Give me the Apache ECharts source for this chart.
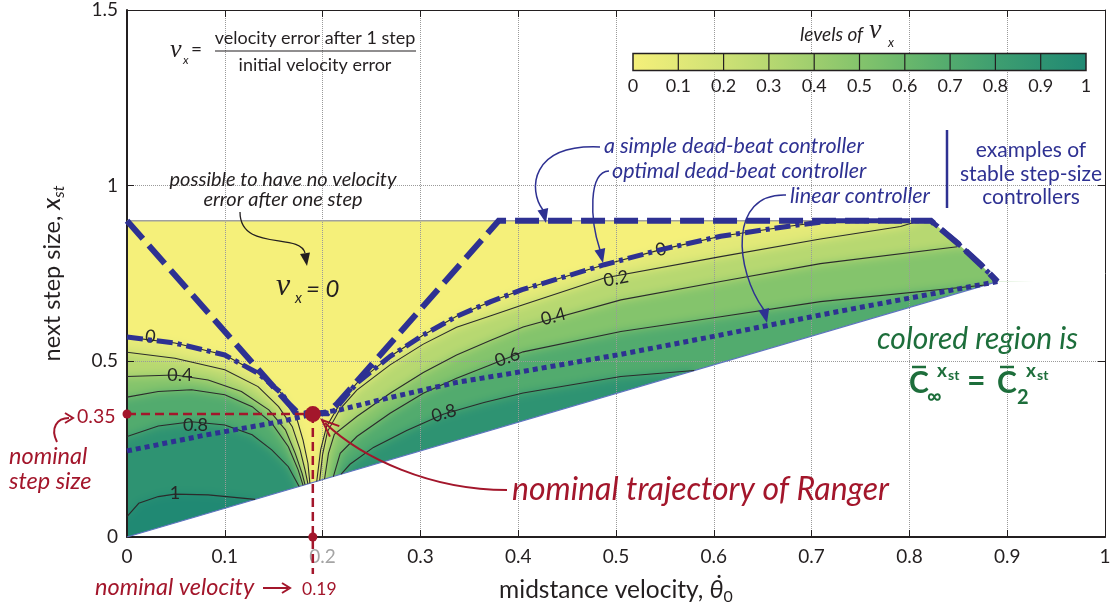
<!DOCTYPE html>
<html>
<head>
<meta charset="utf-8">
<title>Velocity error after one step</title>
<script src="https://cdn.jsdelivr.net/npm/echarts@6/dist/echarts.min.js"></script>
<style>
  html, body { margin: 0; padding: 0; background: #fff; }
  #stage { position: relative; width: 1111px; height: 616px; overflow: hidden; }
  #shade, #main { position: absolute; left: 0; top: 0; width: 1111px; height: 616px; }
  #shade { filter: blur(5px); }
</style>
</head>
<body>
<div id="stage"><div id="shade"></div><div id="main"></div></div>
<script>
// ---------- axes ----------
const xTicks = [0, 0.1, 0.2, 0.3, 0.4, 0.5, 0.6, 0.7, 0.8, 0.9, 1];
const yTicks = [0, 0.5, 1, 1.5];
const levelTicks = [0, 0.1, 0.2, 0.3, 0.4, 0.5, 0.6, 0.7, 0.8, 0.9, 1];

// ---------- iso-lines of nu_x, points are [theta0, x_st] ----------
// left lobe (theta0 below the nominal velocity)
const left0  = [[0,0.569],[0.049,0.552],[0.100,0.518],[0.134,0.466],[0.158,0.409],[0.172,0.352],[0.180,0.276],[0.185,0.210],[0.187,0.153]];
const left02 = [[0,0.526],[0.049,0.509],[0.100,0.476],[0.134,0.428],[0.155,0.371],[0.169,0.314],[0.177,0.248],[0.182,0.191],[0.185,0.151]];
const left04 = [[0,0.457],[0.049,0.461],[0.083,0.447],[0.117,0.414],[0.145,0.362],[0.162,0.305],[0.172,0.238],[0.179,0.181],[0.182,0.149]];
const left06 = [[0,0.398],[0.032,0.414],[0.066,0.419],[0.100,0.405],[0.128,0.371],[0.148,0.324],[0.165,0.257],[0.175,0.191],[0.180,0.147]];
const left08 = [[0,0.286],[0.032,0.316],[0.066,0.328],[0.100,0.319],[0.128,0.291],[0.148,0.248],[0.165,0.200],[0.176,0.144]];
const left1  = [[0,0.058],[0.012,0.096],[0.032,0.115],[0.049,0.122],[0.083,0.120],[0.131,0.107]];
// right lobe
const right0  = [[0.194,0.158],[0.198,0.248],[0.204,0.314],[0.218,0.381],[0.235,0.438],[0.269,0.514],[0.303,0.575],[0.337,0.628],[0.372,0.670],[0.404,0.704],[0.488,0.775],[0.546,0.818],[0.607,0.856],[0.675,0.884],[0.720,0.900]];
const right02 = [[0.197,0.161],[0.200,0.235],[0.205,0.300],[0.218,0.365],[0.235,0.418],[0.269,0.490],[0.303,0.549],[0.337,0.597],[0.372,0.630],[0.402,0.658],[0.488,0.737],[0.607,0.798],[0.709,0.848],[0.791,0.884],[0.810,0.900]];
const right04 = [[0.202,0.165],[0.206,0.238],[0.212,0.292],[0.235,0.343],[0.269,0.409],[0.303,0.468],[0.337,0.518],[0.372,0.560],[0.405,0.598],[0.505,0.675],[0.607,0.727],[0.709,0.778],[0.849,0.826]];
const right06 = [[0.211,0.172],[0.218,0.238],[0.235,0.286],[0.269,0.352],[0.303,0.409],[0.337,0.452],[0.372,0.490],[0.405,0.527],[0.505,0.585],[0.607,0.627],[0.709,0.670],[0.880,0.718]];
const right08 = [[0.219,0.179],[0.228,0.207],[0.252,0.255],[0.286,0.303],[0.324,0.350],[0.365,0.383],[0.405,0.410],[0.505,0.457],[0.580,0.474]];

// contour labels: [text, theta0, x_st, angle in degrees]
const contourLabels = [
  ['0', 0.024, 0.570, -7], ['0.4', 0.054, 0.461, 0], ['0.8', 0.070, 0.318, 0], ['1', 0.049, 0.125, 0],
  ['0', 0.546, 0.818, 14], ['0.2', 0.500, 0.735, 11], ['0.4', 0.436, 0.627, 15], ['0.6', 0.389, 0.511, 20], ['0.8', 0.324, 0.352, 16]
];

// edge of the admissible region
const regionEdge = [[0,0],[0.890,0.727],[0.873,0.775],[0.849,0.837],[0.822,0.900],[0,0.900]];

// ---------- controllers ----------
const deadBeat = [[0,0.900],[0.165,0.380],[0.175,0.352],[0.205,0.352],[0.215,0.380],[0.380,0.900],[0.822,0.900],[0.849,0.837],[0.873,0.775],[0.890,0.727]];
const optimalDeadBeat = [[0,0.569],[0.049,0.552],[0.100,0.518],[0.134,0.466],[0.158,0.409],[0.172,0.352],[0.210,0.352],[0.218,0.381],[0.235,0.438],[0.269,0.514],[0.303,0.575],[0.337,0.628],[0.372,0.670],[0.404,0.704],[0.488,0.775],[0.546,0.818],[0.607,0.856],[0.675,0.884],[0.720,0.900],[0.822,0.900],[0.849,0.837],[0.873,0.775],[0.890,0.727]];
const linearController = [[0,0.245],[0.080,0.290],[0.158,0.329],[0.190,0.350],[0.218,0.362],[0.269,0.397],[0.337,0.440],[0.402,0.470],[0.505,0.520],[0.607,0.575],[0.709,0.632],[0.800,0.680],[0.890,0.727]];

// nominal operating point of Ranger
const nominalVelocity = 0.19;
const nominalStep = 0.35;

// ---------- styling ----------
const SANS = 'Lato, "Open Sans", sans-serif';
const SERIF = '"Liberation Serif", "DejaVu Serif", serif';
const INK = '#231f20', NAVY = '#2e3192', RED = '#a3162b', GREEN = '#1d6e3b';
const paletteStops = [
  [0.0,[245,240,122]],[0.1,[226,233,120]],[0.2,[206,225,117]],[0.3,[183,216,113]],[0.4,[158,206,110]],
  [0.5,[132,196,108]],[0.6,[106,184,108]],[0.7,[82,171,110]],[0.8,[62,158,112]],[0.9,[46,147,114]],[1.0,[32,137,115]]
];
function colorAt(v) {
  const s = paletteStops;
  if (v <= s[0][0]) return 'rgb(' + s[0][1].join(',') + ')';
  for (let i = 1; i < s.length; i++) {
    if (v <= s[i][0]) {
      const t = (v - s[i-1][0]) / (s[i][0] - s[i-1][0]);
      const c = s[i][1].map((q, k) => Math.round(s[i-1][1][k] + t * (q - s[i-1][1][k])));
      return 'rgb(' + c.join(',') + ')';
    }
  }
  return 'rgb(' + s[s.length-1][1].join(',') + ')';
}

const gridBox = { left: 127, right: 6, top: 10, bottom: 79, outerBoundsMode: 'none' };

// ---------- filled level sets (soft layer underneath) ----------
const OUT = -0.1, TOP = 1.0, FAR = 1.1;
function lowerSet(left, right, tail) {
  const pts = [[OUT, TOP], [OUT, left[0][1]]].concat(left);
  pts.push([left[left.length-1][0], OUT], [right[0][0], OUT]);
  return pts.concat(right, tail);
}
const aboveOne = [[OUT, left1[0][1]]].concat(left1, [[0.2, OUT], [OUT, OUT]]);
const shadingLayers = [
  { v: 0.9, poly: [[OUT,OUT],[FAR,OUT],[FAR,TOP],[OUT,TOP]] },
  { v: 1.0, poly: aboveOne },
  { v: 0.7, poly: lowerSet(left08, right08, [[0.58,0.30],[FAR,0.30],[FAR,TOP]]) },
  { v: 0.5, poly: lowerSet(left06, right06, [[0.95,0.70],[FAR,0.70],[FAR,TOP]]) },
  { v: 0.3, poly: lowerSet(left04, right04, [[FAR,0.83],[FAR,TOP]]) },
  { v: 0.1, poly: lowerSet(left02, right02, [[0.83,TOP]]) },
  { v: 0.0, poly: lowerSet(left0, right0, [[0.73,TOP]]) }
];

const shade = echarts.init(document.getElementById('shade'));
shade.setOption({
  backgroundColor: '#fff',
  animation: false,
  grid: gridBox,
  xAxis: { type: 'value', min: xTicks[0], max: xTicks[xTicks.length-1], show: false },
  yAxis: { type: 'value', min: yTicks[0], max: yTicks[yTicks.length-1], show: false },
  series: [{
    type: 'custom', clip: false, silent: true,
    data: shadingLayers.map(l => [l.v, l.v]),
    renderItem: (p, api) => {
      const L = shadingLayers[p.dataIndex];
      const c = colorAt(L.v);
      return { type: 'polygon', shape: { points: L.poly.map(q => api.coord(q)) }, style: { fill: c, stroke: c, lineWidth: 1 } };
    }
  }]
});

// ---------- white cover outside the region ----------
const outside = [
  [[-0.15,0.9],[FAR,0.9],[FAR,1.2],[-0.15,1.2]],
  [[-0.15,-0.2],[0,-0.2],[0,0.9],[0,0.95],[-0.15,0.95]],
  [[0,-0.2],[0,0],[0.890,0.727],[FAR,0.727],[FAR,-0.2]],
  [[0.822,0.950],[0.822,0.900],[0.849,0.837],[0.873,0.775],[0.890,0.727],[FAR,0.720],[FAR,0.950]]
];

const contours = [left0, left02, left04, left06, left08, left1, right0, right02, right04, right06, right08];

// ---------- annotation helpers (pixel space) ----------
function txt(x, y, text, size, color, o) {
  o = o || {};
  const align = o.align || 'left', va = o.va || 'middle';
  return { type: 'text', x: x, y: y, z: 20, silent: true, rotation: o.rot || 0,
    style: { text: text, fill: color,
      font: (o.style || 'normal') + ' ' + (o.weight || 'normal') + ' ' + size + 'px ' + (o.family || SANS),
      align: align, textAlign: align, verticalAlign: va, textVerticalAlign: va } };
}
function seg(x1, y1, x2, y2, color, w) {
  return { type: 'line', z: 20, silent: true, shape: { x1, y1, x2, y2 }, style: { stroke: color, lineWidth: w } };
}
function curve(a, c1, c2, b, color, w) {
  return { type: 'bezierCurve', z: 20, silent: true,
    shape: { x1: a[0], y1: a[1], cpx1: c1[0], cpy1: c1[1], cpx2: c2[0], cpy2: c2[1], x2: b[0], y2: b[1] },
    style: { stroke: color, lineWidth: w, fill: null } };
}
function head(tip, from, len, half, color) {
  const dx = tip[0]-from[0], dy = tip[1]-from[1], d = Math.hypot(dx, dy), ux = dx/d, uy = dy/d;
  const bx = tip[0]-ux*len, by = tip[1]-uy*len;
  return { type: 'polygon', z: 21, silent: true,
    shape: { points: [tip, [bx-uy*half, by+ux*half], [bx+uy*half, by-ux*half]] }, style: { fill: color } };
}
function chevron(tip, from, len, half, color, w) {
  const dx = tip[0]-from[0], dy = tip[1]-from[1], d = Math.hypot(dx, dy), ux = dx/d, uy = dy/d;
  const bx = tip[0]-ux*len, by = tip[1]-uy*len;
  return { type: 'polyline', z: 21, silent: true,
    shape: { points: [[bx-uy*half, by+ux*half], tip, [bx+uy*half, by-ux*half]] },
    style: { stroke: color, lineWidth: w, fill: null } };
}

// colour bar of the levels
const bar = { x: 633, y: 53.5, w: 453, h: 17 };
const barGraphics = [
  { type: 'rect', z: 20, silent: true, shape: { x: bar.x, y: bar.y, width: bar.w, height: bar.h },
    style: { fill: new echarts.graphic.LinearGradient(0, 0, 1, 0, paletteStops.map(s => ({ offset: s[0], color: colorAt(s[0]) }))),
      stroke: INK, lineWidth: 1.5 } }
];
levelTicks.forEach(v => {
  const px = bar.x + bar.w * (v - levelTicks[0]) / (levelTicks[levelTicks.length-1] - levelTicks[0]);
  if (v > levelTicks[0] && v < levelTicks[levelTicks.length-1]) barGraphics.push(seg(px, bar.y, px, bar.y + bar.h, INK, 1.2));
  barGraphics.push(txt(px, 86, String(v), 18, INK, { align: 'center' }));
});

const graphics = [].concat(
  // definition of nu_x
  [
    txt(170, 50, 'ν', 26, INK, { style: 'italic', family: SERIF }),
    txt(183, 60, 'x', 12, INK, { style: 'italic' }),
    txt(191, 50, '=', 19, INK),
    txt(315, 38, 'velocity error after 1 step', 18, INK, { align: 'center' }),
    seg(215, 51, 416, 51, INK, 1.2),
    txt(315, 65, 'initial velocity error', 18, INK, { align: 'center' })
  ],
  // colour bar
  [
    txt(800, 35, 'levels of', 19, INK, { style: 'italic' }),
    txt(869, 31, 'ν', 28, INK, { style: 'italic', family: SERIF }),
    txt(888, 43, 'x', 13, INK, { style: 'italic' })
  ],
  barGraphics,
  // zero-error note
  [
    txt(283, 180, 'possible to have no velocity', 20, INK, { style: 'italic', align: 'center' }),
    txt(283, 200, 'error after one step', 20, INK, { style: 'italic', align: 'center' }),
    curve([240, 212], [240, 252], [300, 232], [305, 253], INK, 1.3),
    head([307, 266], [305, 253], 13, 5, INK),
    txt(276, 287, 'ν', 32, INK, { style: 'italic', family: SERIF }),
    txt(295, 298, 'x', 15, INK, { style: 'italic' }),
    txt(306, 289, '= 0', 24, INK, { style: 'italic' })
  ],
  // controller legend
  [
    txt(604, 146, 'a simple dead-beat controller', 21.5, NAVY, { style: 'italic' }),
    txt(612, 171, 'optimal dead-beat controller', 21.5, NAVY, { style: 'italic' }),
    txt(790, 196, 'linear controller', 21.5, NAVY, { style: 'italic' }),
    seg(947, 130, 947, 208, NAVY, 2.5),
    txt(1031, 150, 'examples of', 21, NAVY, { align: 'center' }),
    txt(1031, 174, 'stable step-size', 21, NAVY, { align: 'center' }),
    txt(1031, 197, 'controllers', 21, NAVY, { align: 'center' }),
    curve([600, 147], [530, 144], [528, 190], [543, 210], NAVY, 1.5),
    head([546, 223], [543, 210], 14, 5.5, NAVY),
    curve([609, 171], [588, 172], [590, 220], [600, 250], NAVY, 1.5),
    head([603, 263], [600, 250], 14, 5.5, NAVY),
    curve([786, 195], [728, 193], [735, 270], [764, 310], NAVY, 1.5),
    head([767, 323], [764, 310], 14, 5.5, NAVY)
  ],
  // region statement
  [
    txt(877, 339, 'colored region is', 30, GREEN, { style: 'italic' }),
    txt(909, 383, 'C', 30, GREEN, { weight: 'bold' }),
    seg(912, 367, 926, 367, GREEN, 2.5),
    txt(927, 397, '∞', 20, GREEN, { weight: 'bold' }),
    txt(937, 371, 'x', 19, GREEN, { weight: 'bold' }),
    txt(948, 375, 'st', 14, GREEN, { weight: 'bold' }),
    txt(967, 382, '=', 32, GREEN, { weight: 'bold' }),
    txt(997, 383, 'C', 30, GREEN, { weight: 'bold' }),
    seg(1000, 367, 1014, 367, GREEN, 2.5),
    txt(1017, 398, '2', 20, GREEN, { weight: 'bold' }),
    txt(1026, 371, 'x', 19, GREEN, { weight: 'bold' }),
    txt(1037, 375, 'st', 14, GREEN, { weight: 'bold' })
  ],
  // nominal operating point
  [
    txt(512, 490, 'nominal trajectory of Ranger', 32, RED, { style: 'italic' }),
    curve([507, 490], [430, 490], [362, 458], [325, 423], RED, 2),
    chevron([322, 420], [332, 429], 17, 7, RED, 2),
    txt(77, 417, '0.35', 19.5, RED),
    curve([57, 442], [50, 428], [57, 418], [69, 418], RED, 2),
    chevron([73, 418], [63, 418], 8, 5, RED, 2),
    txt(9, 456, 'nominal', 23.5, RED, { style: 'italic' }),
    txt(9, 481, 'step size', 23.5, RED, { style: 'italic' }),
    txt(95, 587, 'nominal velocity', 23.5, RED, { style: 'italic' }),
    seg(263, 588, 288, 588, RED, 2),
    chevron([290, 588], [280, 588], 8, 5, RED, 2),
    txt(302, 589, String(nominalVelocity), 17.5, RED)
  ]
);

// ---------- main chart ----------
const main = echarts.init(document.getElementById('main'));
const axisText = { fontFamily: SANS, fontSize: 19, color: INK };
const tickFmt = v => String(Number(v.toFixed(2)));
main.setOption({
  backgroundColor: 'transparent',
  animation: false,
  textStyle: { fontFamily: SANS },
  grid: gridBox,
  xAxis: [
    { type: 'value', position: 'bottom', min: xTicks[0], max: xTicks[xTicks.length-1], interval: xTicks[1] - xTicks[0],
      axisLine: { show: true, onZero: false, lineStyle: { color: INK, width: 2 } },
      axisTick: { show: true, inside: true, length: 7, lineStyle: { color: INK, width: 1 } },
      axisLabel: Object.assign({}, axisText, { margin: 10, formatter: tickFmt,
        color: v => Math.abs(v - 0.2) < 1e-9 ? '#a5a5a5' : INK }),
      splitLine: { show: true, lineStyle: { type: 'dotted', color: '#9a9a9a', width: 1 } },
      name: 'midstance velocity, {th|θ̇}{sub|0}', nameLocation: 'middle', nameGap: 38,
      nameTextStyle: { fontFamily: SANS, fontSize: 24.5, color: INK, lineHeight: 30,
        rich: { th: { fontFamily: SANS, fontSize: 25, fontStyle: 'italic', color: INK, lineHeight: 30 },
                sub: { fontFamily: SANS, fontSize: 16, color: INK, verticalAlign: 'bottom', lineHeight: 12 } } } },
    { type: 'value', position: 'top', min: xTicks[0], max: xTicks[xTicks.length-1], interval: xTicks[1] - xTicks[0],
      axisLine: { show: true, onZero: false, lineStyle: { color: INK, width: 1 } },
      axisTick: { show: true, inside: true, length: 7, lineStyle: { color: INK, width: 1 } },
      axisLabel: { show: false }, splitLine: { show: false } }
  ],
  yAxis: [
    { type: 'value', position: 'left', min: yTicks[0], max: yTicks[yTicks.length-1], interval: yTicks[1] - yTicks[0],
      axisLine: { show: true, onZero: false, lineStyle: { color: INK, width: 2 } },
      axisTick: { show: true, inside: true, length: 7, lineStyle: { color: INK, width: 1 } },
      axisLabel: Object.assign({}, axisText, { margin: 9, formatter: tickFmt }),
      splitLine: { show: true, lineStyle: { type: 'dotted', color: '#9a9a9a', width: 1 } },
      name: 'next step size, {xi|x}{sub|st}', nameLocation: 'middle', nameGap: 60,
      nameTextStyle: { fontFamily: SANS, fontSize: 23.5, color: INK, lineHeight: 30,
        rich: { xi: { fontFamily: SANS, fontSize: 26, fontStyle: 'italic', color: INK, lineHeight: 30 },
                sub: { fontFamily: SANS, fontSize: 16, fontStyle: 'italic', color: INK, verticalAlign: 'bottom', lineHeight: 12 } } } },
    { type: 'value', position: 'right', min: yTicks[0], max: yTicks[yTicks.length-1], interval: yTicks[1] - yTicks[0],
      axisLine: { show: true, onZero: false, lineStyle: { color: INK, width: 1 } },
      axisTick: { show: true, inside: true, length: 7, lineStyle: { color: INK, width: 1 } },
      axisLabel: { show: false }, splitLine: { show: false } }
  ],
  series: [
    { type: 'custom', z: -1, clip: false, silent: true,
      data: outside.map((_, i) => [i, i]),
      renderItem: (p, api) => ({ type: 'polygon', shape: { points: outside[p.dataIndex].map(q => api.coord(q)) },
        style: { fill: '#fff' } }) },
    { type: 'line', z: 1, silent: true, symbol: 'none', data: [regionEdge[5], regionEdge[4]],
      lineStyle: { color: '#a0a0a0', width: 1.5 } },
    { type: 'line', z: 1, silent: true, symbol: 'none', data: regionEdge.slice(0, 2),
      lineStyle: { color: '#5f74c0', width: 1.2 } },
    { type: 'custom', z: 3, silent: true, clip: true,
      data: contours.map((_, i) => [i, i]),
      renderItem: (p, api) => ({ type: 'polyline', shape: { points: contours[p.dataIndex].map(q => api.coord(q)) },
        style: { stroke: '#2b2b2b', lineWidth: 1.1, fill: null } }) },
    { type: 'custom', z: 3, silent: true, clip: false,
      data: contourLabels.map(l => [l[1], l[2]]),
      renderItem: (p, api) => {
        const l = contourLabels[p.dataIndex];
        const pt = api.coord([l[1], l[2]]);
        return { type: 'text', x: pt[0], y: pt[1], rotation: l[3] * Math.PI / 180,
          style: { text: l[0], fill: '#262626', font: '18px ' + SANS, align: 'center', verticalAlign: 'middle' } };
      } },
    { type: 'line', z: 4, silent: true, symbol: 'none', data: linearController,
      lineStyle: { color: NAVY, width: 5, type: [5, 4], cap: 'butt' } },
    { type: 'line', z: 4, silent: true, symbol: 'none', data: deadBeat,
      lineStyle: { color: NAVY, width: 6, type: [24, 9], cap: 'butt', join: 'miter' } },
    { type: 'line', z: 4, silent: true, symbol: 'none', data: optimalDeadBeat,
      lineStyle: { color: NAVY, width: 5, type: [16, 5, 4, 5], cap: 'butt' } },
    { type: 'line', z: 5, silent: true, symbol: 'none', clip: false,
      data: [[0, nominalStep], [nominalVelocity, nominalStep]],
      lineStyle: { color: RED, width: 2.5, type: [9, 5] } },
    { type: 'line', z: 5, silent: true, symbol: 'none', clip: false,
      data: [[nominalVelocity, nominalStep], [nominalVelocity, -0.105]],
      lineStyle: { color: RED, width: 2.5, type: [9, 5] } },
    { type: 'scatter', z: 6, silent: true, clip: false, symbolSize: 9,
      data: [[0, nominalStep], [nominalVelocity, 0]], itemStyle: { color: RED, opacity: 1 } },
    { type: 'scatter', z: 6, silent: true, clip: false, symbolSize: 16,
      data: [[nominalVelocity, nominalStep]], itemStyle: { color: RED, opacity: 1 } }
  ],
  graphic: graphics
});
</script>
</body>
</html>
